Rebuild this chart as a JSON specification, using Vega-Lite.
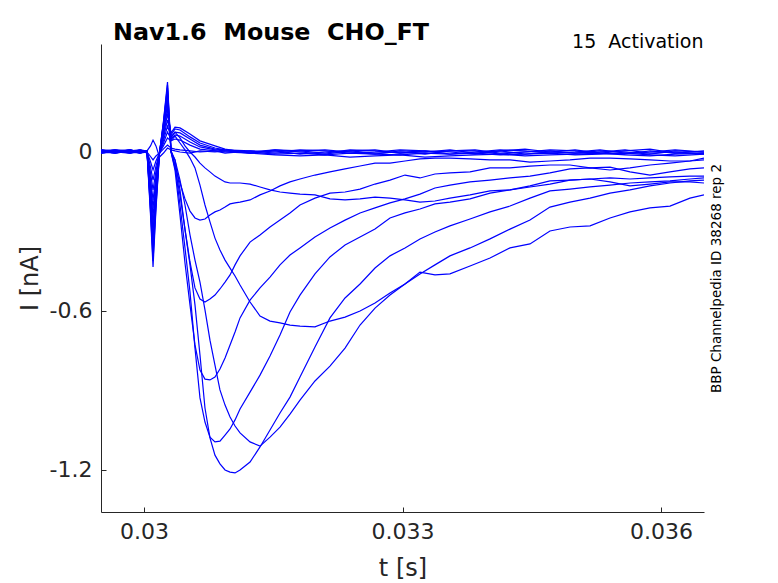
{
"$schema": "https://vega.github.io/schema/vega-lite/v6.json",
"width": 603, "height": 468,
"autosize": {"type": "none"},
"padding": {"left": 101, "top": 44, "right": 74, "bottom": 71},
"background": "white",
"title": {"text": "Nav1.6\u00a0 Mouse\u00a0 CHO_FT", "anchor": "start", "frame": "group", "dx": 12, "dy": 35, "offset": 3, "baseline": "alphabetic", "fontSize": 23.8, "fontWeight": "bold", "color": "#000000", "font": "DejaVu Sans"},
"config": {"view": {"stroke": null}, "font": "DejaVu Sans", "axis": {"grid": false, "domainColor": "#262626", "tickColor": "#262626", "labelColor": "#262626", "titleColor": "#262626", "labelFont": "DejaVu Sans", "titleFont": "DejaVu Sans"}},
"data": {"values": [
{"s":1,"t":0.0295,"i":0.004},{"s":1,"t":0.029663,"i":-0.004},{"s":1,"t":0.029837,"i":0.008},{"s":1,"t":0.029953,"i":0},{"s":1,"t":0.030034,"i":0.004},
{"s":1,"t":0.030075,"i":0.023},{"s":1,"t":0.030104,"i":0.045},{"s":1,"t":0.030138,"i":0.023},{"s":1,"t":0.030179,"i":-0.019},{"s":1,"t":0.030226,"i":-0.004},{"s":1,"t":0.030272,"i":0.015},
{"s":1,"t":0.030313,"i":0.008},{"s":1,"t":0.030359,"i":0.004},{"s":1,"t":0.030417,"i":0},{"s":1,"t":0.030533,"i":-0.004},{"s":1,"t":0.030649,"i":0.004},{"s":1,"t":0.030823,"i":0},
{"s":1,"t":0.03094,"i":0.004},{"s":1,"t":0.03123,"i":-0.004},{"s":1,"t":0.03152,"i":0.008},{"s":1,"t":0.03181,"i":0},{"s":1,"t":0.0321,"i":-0.008},{"s":1,"t":0.032391,"i":0.004},{"s":1,"t":0.032681,"i":0.008},{"s":1,"t":0.032971,"i":-0.004},{"s":1,"t":0.033261,"i":0},{"s":1,"t":0.033551,"i":0.008},{"s":1,"t":0.033842,"i":-0.004},{"s":1,"t":0.034132,"i":0.004},{"s":1,"t":0.034422,"i":-0.008},{"s":1,"t":0.034712,"i":0},{"s":1,"t":0.035003,"i":0.008},{"s":1,"t":0.035293,"i":-0.004},{"s":1,"t":0.035583,"i":0.004},{"s":1,"t":0.035873,"i":0.011},{"s":1,"t":0.036164,"i":-0.004},{"s":1,"t":0.0365,"i":0.004},

{"s":2,"t":0.0295,"i":0.008},{"s":2,"t":0.029663,"i":0},{"s":2,"t":0.029837,"i":-0.004},{"s":2,"t":0.029953,"i":0.004},{"s":2,"t":0.030034,"i":0},
{"s":2,"t":0.030075,"i":-0.017},{"s":2,"t":0.030104,"i":-0.03},{"s":2,"t":0.030138,"i":-0.015},{"s":2,"t":0.030179,"i":-0.004},{"s":2,"t":0.030226,"i":0.012},{"s":2,"t":0.030272,"i":0.026},
{"s":2,"t":0.030313,"i":0.015},{"s":2,"t":0.030359,"i":0.011},{"s":2,"t":0.030417,"i":0.008},{"s":2,"t":0.030533,"i":0.004},{"s":2,"t":0.030649,"i":0},{"s":2,"t":0.030823,"i":0.004},
{"s":2,"t":0.03094,"i":-0.004},{"s":2,"t":0.03123,"i":0.004},{"s":2,"t":0.03152,"i":0},{"s":2,"t":0.03181,"i":0.008},{"s":2,"t":0.0321,"i":0.004},{"s":2,"t":0.032391,"i":-0.004},{"s":2,"t":0.032681,"i":0},{"s":2,"t":0.032971,"i":0.008},{"s":2,"t":0.033261,"i":0.004},{"s":2,"t":0.033551,"i":-0.008},{"s":2,"t":0.033842,"i":0},{"s":2,"t":0.034132,"i":0.008},{"s":2,"t":0.034422,"i":0.004},{"s":2,"t":0.034712,"i":-0.004},{"s":2,"t":0.035003,"i":0},{"s":2,"t":0.035293,"i":0.008},{"s":2,"t":0.035583,"i":-0.004},{"s":2,"t":0.035873,"i":0},{"s":2,"t":0.036164,"i":0.008},{"s":2,"t":0.0365,"i":0},

{"s":3,"t":0.0295,"i":-0.004},{"s":3,"t":0.029663,"i":0.004},{"s":3,"t":0.029837,"i":0},{"s":3,"t":0.029953,"i":0.008},{"s":3,"t":0.030034,"i":0},
{"s":3,"t":0.030075,"i":-0.037},{"s":3,"t":0.030104,"i":-0.068},{"s":3,"t":0.030138,"i":-0.034},{"s":3,"t":0.030179,"i":-0.004},{"s":3,"t":0.030226,"i":0.024},{"s":3,"t":0.030272,"i":0.053},
{"s":3,"t":0.030313,"i":0.042},{"s":3,"t":0.030359,"i":0.049},{"s":3,"t":0.030417,"i":0.045},{"s":3,"t":0.030533,"i":0.026},{"s":3,"t":0.030649,"i":0.011},{"s":3,"t":0.030823,"i":0.004},
{"s":3,"t":0.03094,"i":0},{"s":3,"t":0.03123,"i":-0.004},{"s":3,"t":0.03152,"i":0.004},{"s":3,"t":0.03181,"i":-0.008},{"s":3,"t":0.0321,"i":0},{"s":3,"t":0.032391,"i":0.004},{"s":3,"t":0.032681,"i":-0.004},{"s":3,"t":0.032971,"i":0},{"s":3,"t":0.033261,"i":-0.008},{"s":3,"t":0.033551,"i":0.004},{"s":3,"t":0.033842,"i":0.008},{"s":3,"t":0.034132,"i":-0.004},{"s":3,"t":0.034422,"i":0},{"s":3,"t":0.034712,"i":0.004},{"s":3,"t":0.035003,"i":-0.004},{"s":3,"t":0.035293,"i":0},{"s":3,"t":0.035583,"i":0.008},{"s":3,"t":0.035873,"i":-0.004},{"s":3,"t":0.036164,"i":0},{"s":3,"t":0.0365,"i":-0.008},

{"s":4,"t":0.0295,"i":0},{"s":4,"t":0.029663,"i":0.008},{"s":4,"t":0.029837,"i":-0.004},{"s":4,"t":0.029953,"i":0},{"s":4,"t":0.030034,"i":0.004},
{"s":4,"t":0.030075,"i":-0.058},{"s":4,"t":0.030104,"i":-0.106},{"s":4,"t":0.030138,"i":-0.053},{"s":4,"t":0.030179,"i":-0.004},{"s":4,"t":0.030226,"i":0.034},{"s":4,"t":0.030272,"i":0.075},
{"s":4,"t":0.030313,"i":0.049},{"s":4,"t":0.030359,"i":0.064},{"s":4,"t":0.030417,"i":0.06},{"s":4,"t":0.030533,"i":0.038},{"s":4,"t":0.030649,"i":0.019},{"s":4,"t":0.030823,"i":0.008},
{"s":4,"t":0.03094,"i":0.004},{"s":4,"t":0.03123,"i":0},{"s":4,"t":0.03152,"i":0.008},{"s":4,"t":0.03181,"i":0.004},{"s":4,"t":0.0321,"i":-0.004},{"s":4,"t":0.032391,"i":0.008},{"s":4,"t":0.032681,"i":0.004},{"s":4,"t":0.032971,"i":-0.004},{"s":4,"t":0.033261,"i":0.004},{"s":4,"t":0.033551,"i":0},{"s":4,"t":0.033842,"i":-0.008},{"s":4,"t":0.034132,"i":0.004},{"s":4,"t":0.034422,"i":0.011},{"s":4,"t":0.034712,"i":0},{"s":4,"t":0.035003,"i":-0.004},{"s":4,"t":0.035293,"i":0.004},{"s":4,"t":0.035583,"i":0},{"s":4,"t":0.035873,"i":-0.008},{"s":4,"t":0.036164,"i":0.004},{"s":4,"t":0.0365,"i":0},

{"s":5,"t":0.0295,"i":0.004},{"s":5,"t":0.029663,"i":-0.004},{"s":5,"t":0.029837,"i":0.004},{"s":5,"t":0.029953,"i":0.004},{"s":5,"t":0.030034,"i":0},
{"s":5,"t":0.030075,"i":-0.079},{"s":5,"t":0.030104,"i":-0.143},{"s":5,"t":0.030138,"i":-0.072},{"s":5,"t":0.030179,"i":-0.004},{"s":5,"t":0.030226,"i":0.044},{"s":5,"t":0.030272,"i":0.098},
{"s":5,"t":0.030313,"i":0.057},{"s":5,"t":0.030359,"i":0.075},{"s":5,"t":0.030417,"i":0.072},{"s":5,"t":0.030533,"i":0.049},{"s":5,"t":0.030649,"i":0.026},{"s":5,"t":0.030823,"i":0.011},
{"s":5,"t":0.03094,"i":0.008},{"s":5,"t":0.03123,"i":0.004},{"s":5,"t":0.03152,"i":-0.004},{"s":5,"t":0.03181,"i":0.004},{"s":5,"t":0.0321,"i":0.008},{"s":5,"t":0.032391,"i":0},{"s":5,"t":0.032681,"i":-0.008},{"s":5,"t":0.032971,"i":0.004},{"s":5,"t":0.033261,"i":0},{"s":5,"t":0.033551,"i":0.004},{"s":5,"t":0.033842,"i":0.004},{"s":5,"t":0.034132,"i":-0.008},{"s":5,"t":0.034422,"i":0},{"s":5,"t":0.034712,"i":0.008},{"s":5,"t":0.035003,"i":0.004},{"s":5,"t":0.035293,"i":-0.004},{"s":5,"t":0.035583,"i":-0.008},{"s":5,"t":0.035873,"i":0.004},{"s":5,"t":0.036164,"i":-0.004},{"s":5,"t":0.0365,"i":-0.004},

{"s":6,"t":0.0295,"i":-0.004},{"s":6,"t":0.029663,"i":0},{"s":6,"t":0.029837,"i":0.008},{"s":6,"t":0.029953,"i":-0.004},{"s":6,"t":0.030034,"i":0},
{"s":6,"t":0.030075,"i":-0.1},{"s":6,"t":0.030104,"i":-0.181},{"s":6,"t":0.030138,"i":-0.091},{"s":6,"t":0.030179,"i":-0.004},{"s":6,"t":0.030226,"i":0.054},{"s":6,"t":0.030272,"i":0.121},
{"s":6,"t":0.030313,"i":0.064},{"s":6,"t":0.030359,"i":0.087},{"s":6,"t":0.030417,"i":0.083},{"s":6,"t":0.030533,"i":0.057},{"s":6,"t":0.030649,"i":0.034},{"s":6,"t":0.030823,"i":0.015},
{"s":6,"t":0.03094,"i":0.008},{"s":6,"t":0.03123,"i":0},{"s":6,"t":0.03152,"i":-0.008},{"s":6,"t":0.03181,"i":-0.004},{"s":6,"t":0.0321,"i":-0.011},{"s":6,"t":0.032391,"i":-0.004},{"s":6,"t":0.032681,"i":-0.008},{"s":6,"t":0.032971,"i":-0.011},{"s":6,"t":0.033261,"i":-0.004},{"s":6,"t":0.033551,"i":-0.008},{"s":6,"t":0.033842,"i":-0.004},{"s":6,"t":0.034132,"i":-0.011},{"s":6,"t":0.034422,"i":-0.008},{"s":6,"t":0.034712,"i":-0.004},{"s":6,"t":0.035003,"i":-0.011},{"s":6,"t":0.035293,"i":-0.008},{"s":6,"t":0.035583,"i":-0.004},{"s":6,"t":0.035873,"i":-0.011},{"s":6,"t":0.036164,"i":-0.015},{"s":6,"t":0.0365,"i":-0.008},

{"s":7,"t":0.0295,"i":0.004},{"s":7,"t":0.029663,"i":0.004},{"s":7,"t":0.029837,"i":0},{"s":7,"t":0.029953,"i":-0.004},{"s":7,"t":0.030034,"i":0.004},
{"s":7,"t":0.030075,"i":-0.116},{"s":7,"t":0.030104,"i":-0.211},{"s":7,"t":0.030138,"i":-0.106},{"s":7,"t":0.030179,"i":-0.004},{"s":7,"t":0.030226,"i":0.065},{"s":7,"t":0.030272,"i":0.143},
{"s":7,"t":0.030313,"i":0.072},{"s":7,"t":0.030359,"i":0.094},{"s":7,"t":0.030417,"i":0.091},{"s":7,"t":0.030533,"i":0.068},{"s":7,"t":0.030649,"i":0.042},{"s":7,"t":0.030823,"i":0.023},
{"s":7,"t":0.03094,"i":0.011},{"s":7,"t":0.03123,"i":-0.004},{"s":7,"t":0.03152,"i":-0.011},{"s":7,"t":0.03181,"i":-0.015},{"s":7,"t":0.0321,"i":-0.011},{"s":7,"t":0.032391,"i":-0.019},{"s":7,"t":0.032681,"i":-0.015},{"s":7,"t":0.032971,"i":-0.011},{"s":7,"t":0.033261,"i":-0.019},{"s":7,"t":0.033551,"i":-0.015},{"s":7,"t":0.033842,"i":-0.011},{"s":7,"t":0.034132,"i":-0.008},{"s":7,"t":0.034422,"i":-0.015},{"s":7,"t":0.034712,"i":-0.011},{"s":7,"t":0.035003,"i":-0.008},{"s":7,"t":0.035293,"i":-0.004},{"s":7,"t":0.035583,"i":-0.011},{"s":7,"t":0.035873,"i":-0.015},{"s":7,"t":0.036164,"i":-0.008},{"s":7,"t":0.0365,"i":-0.004},

{"s":8,"t":0.0295,"i":0},{"s":8,"t":0.029663,"i":0.004},{"s":8,"t":0.029837,"i":-0.004},{"s":8,"t":0.029953,"i":0.008},{"s":8,"t":0.030034,"i":0},
{"s":8,"t":0.030075,"i":-0.133},{"s":8,"t":0.030104,"i":-0.242},{"s":8,"t":0.030138,"i":-0.121},{"s":8,"t":0.030179,"i":-0.004},{"s":8,"t":0.030226,"i":0.073},{"s":8,"t":0.030272,"i":0.162},
{"s":8,"t":0.030313,"i":0.053},{"s":8,"t":0.030359,"i":0.075},{"s":8,"t":0.030417,"i":0.053},{"s":8,"t":0.030475,"i":0.023},{"s":8,"t":0.030533,"i":0},{"s":8,"t":0.030591,"i":-0.019},{"s":8,"t":0.030649,"i":-0.042},{"s":8,"t":0.030707,"i":-0.06},{"s":8,"t":0.030765,"i":-0.075},{"s":8,"t":0.030823,"i":-0.091},{"s":8,"t":0.030881,"i":-0.102},{"s":8,"t":0.03094,"i":-0.113},{"s":8,"t":0.030998,"i":-0.117},{"s":8,"t":0.031056,"i":-0.117},{"s":8,"t":0.031114,"i":-0.117},{"s":8,"t":0.03123,"i":-0.121},{"s":8,"t":0.031346,"i":-0.132},{"s":8,"t":0.031462,"i":-0.143},{"s":8,"t":0.031578,"i":-0.151},{"s":8,"t":0.031694,"i":-0.155},{"s":8,"t":0.03181,"i":-0.159},{"s":8,"t":0.031984,"i":-0.162},{"s":8,"t":0.032158,"i":-0.177},{"s":8,"t":0.032333,"i":-0.181},{"s":8,"t":0.032507,"i":-0.177},{"s":8,"t":0.032681,"i":-0.17},{"s":8,"t":0.032855,"i":-0.174},{"s":8,"t":0.033029,"i":-0.181},{"s":8,"t":0.033203,"i":-0.189},{"s":8,"t":0.033377,"i":-0.185},{"s":8,"t":0.033551,"i":-0.174},{"s":8,"t":0.033784,"i":-0.162},{"s":8,"t":0.034016,"i":-0.147},{"s":8,"t":0.034248,"i":-0.143},{"s":8,"t":0.03448,"i":-0.132},{"s":8,"t":0.034712,"i":-0.121},{"s":8,"t":0.034944,"i":-0.106},{"s":8,"t":0.035177,"i":-0.102},{"s":8,"t":0.035409,"i":-0.113},{"s":8,"t":0.035641,"i":-0.128},{"s":8,"t":0.035873,"i":-0.121},{"s":8,"t":0.036105,"i":-0.113},{"s":8,"t":0.036337,"i":-0.113},{"s":8,"t":0.0365,"i":-0.117},

{"s":9,"t":0.0295,"i":0.008},{"s":9,"t":0.029663,"i":0},{"s":9,"t":0.029837,"i":0.004},{"s":9,"t":0.029953,"i":-0.004},{"s":9,"t":0.030034,"i":0.004},
{"s":9,"t":0.030075,"i":-0.149},{"s":9,"t":0.030104,"i":-0.272},{"s":9,"t":0.030138,"i":-0.136},{"s":9,"t":0.030179,"i":-0.004},{"s":9,"t":0.030226,"i":0.082},{"s":9,"t":0.030272,"i":0.181},
{"s":9,"t":0.030313,"i":0.042},{"s":9,"t":0.030359,"i":0.06},{"s":9,"t":0.030417,"i":0.034},{"s":9,"t":0.030475,"i":0.008},{"s":9,"t":0.030533,"i":-0.023},{"s":9,"t":0.030591,"i":-0.06},{"s":9,"t":0.030649,"i":-0.125},{"s":9,"t":0.030707,"i":-0.2},{"s":9,"t":0.030765,"i":-0.264},{"s":9,"t":0.030823,"i":-0.325},{"s":9,"t":0.030881,"i":-0.37},{"s":9,"t":0.03094,"i":-0.408},{"s":9,"t":0.030998,"i":-0.438},{"s":9,"t":0.031056,"i":-0.468},{"s":9,"t":0.031114,"i":-0.502},{"s":9,"t":0.03123,"i":-0.566},{"s":9,"t":0.031346,"i":-0.619},{"s":9,"t":0.031462,"i":-0.638},{"s":9,"t":0.031578,"i":-0.645},{"s":9,"t":0.031694,"i":-0.653},{"s":9,"t":0.03181,"i":-0.657},{"s":9,"t":0.031984,"i":-0.66},{"s":9,"t":0.032158,"i":-0.638},{"s":9,"t":0.032333,"i":-0.623},{"s":9,"t":0.032507,"i":-0.6},{"s":9,"t":0.032681,"i":-0.57},{"s":9,"t":0.032855,"i":-0.532},{"s":9,"t":0.033029,"i":-0.498},{"s":9,"t":0.033203,"i":-0.453},{"s":9,"t":0.033377,"i":-0.464},{"s":9,"t":0.033551,"i":-0.46},{"s":9,"t":0.033784,"i":-0.43},{"s":9,"t":0.034016,"i":-0.4},{"s":9,"t":0.034248,"i":-0.362},{"s":9,"t":0.03448,"i":-0.347},{"s":9,"t":0.034712,"i":-0.298},{"s":9,"t":0.034944,"i":-0.283},{"s":9,"t":0.035177,"i":-0.279},{"s":9,"t":0.035409,"i":-0.249},{"s":9,"t":0.035641,"i":-0.226},{"s":9,"t":0.035873,"i":-0.211},{"s":9,"t":0.036105,"i":-0.204},{"s":9,"t":0.036337,"i":-0.174},{"s":9,"t":0.0365,"i":-0.162},

{"s":10,"t":0.0295,"i":-0.004},{"s":10,"t":0.029663,"i":0.004},{"s":10,"t":0.029837,"i":0.008},{"s":10,"t":0.029953,"i":0},{"s":10,"t":0.030034,"i":0},
{"s":10,"t":0.030075,"i":-0.166},{"s":10,"t":0.030104,"i":-0.302},{"s":10,"t":0.030138,"i":-0.151},{"s":10,"t":0.030179,"i":-0.004},{"s":10,"t":0.030226,"i":0.09},{"s":10,"t":0.030272,"i":0.2},
{"s":10,"t":0.030313,"i":0.004},{"s":10,"t":0.030359,"i":-0.03},{"s":10,"t":0.030417,"i":-0.106},{"s":10,"t":0.030475,"i":-0.2},{"s":10,"t":0.030533,"i":-0.313},{"s":10,"t":0.030591,"i":-0.408},{"s":10,"t":0.030649,"i":-0.491},{"s":10,"t":0.030707,"i":-0.596},{"s":10,"t":0.030765,"i":-0.71},{"s":10,"t":0.030823,"i":-0.804},{"s":10,"t":0.030881,"i":-0.898},{"s":10,"t":0.03094,"i":-0.955},{"s":10,"t":0.030998,"i":-1.0},{"s":10,"t":0.031056,"i":-1.034},{"s":10,"t":0.031114,"i":-1.06},{"s":10,"t":0.03123,"i":-1.094},{"s":10,"t":0.031346,"i":-1.11},{"s":10,"t":0.031462,"i":-1.076},{"s":10,"t":0.031578,"i":-1.038},{"s":10,"t":0.031694,"i":-0.989},{"s":10,"t":0.03181,"i":-0.936},{"s":10,"t":0.031984,"i":-0.864},{"s":10,"t":0.032158,"i":-0.808},{"s":10,"t":0.032333,"i":-0.74},{"s":10,"t":0.032507,"i":-0.653},{"s":10,"t":0.032681,"i":-0.589},{"s":10,"t":0.032855,"i":-0.54},{"s":10,"t":0.033029,"i":-0.498},{"s":10,"t":0.033203,"i":-0.46},{"s":10,"t":0.033377,"i":-0.426},{"s":10,"t":0.033551,"i":-0.392},{"s":10,"t":0.033784,"i":-0.362},{"s":10,"t":0.034016,"i":-0.328},{"s":10,"t":0.034248,"i":-0.291},{"s":10,"t":0.03448,"i":-0.257},{"s":10,"t":0.034712,"i":-0.208},{"s":10,"t":0.034944,"i":-0.189},{"s":10,"t":0.035177,"i":-0.174},{"s":10,"t":0.035409,"i":-0.155},{"s":10,"t":0.035641,"i":-0.143},{"s":10,"t":0.035873,"i":-0.128},{"s":10,"t":0.036105,"i":-0.117},{"s":10,"t":0.036337,"i":-0.109},{"s":10,"t":0.0365,"i":-0.106},

{"s":11,"t":0.0295,"i":0.004},{"s":11,"t":0.029663,"i":0.008},{"s":11,"t":0.029837,"i":0},{"s":11,"t":0.029953,"i":0.004},{"s":11,"t":0.030034,"i":-0.004},
{"s":11,"t":0.030075,"i":-0.183},{"s":11,"t":0.030104,"i":-0.332},{"s":11,"t":0.030138,"i":-0.166},{"s":11,"t":0.030179,"i":-0.004},{"s":11,"t":0.030226,"i":0.097},{"s":11,"t":0.030272,"i":0.215},
{"s":11,"t":0.030313,"i":0},{"s":11,"t":0.030359,"i":-0.03},{"s":11,"t":0.030417,"i":-0.143},{"s":11,"t":0.030475,"i":-0.294},{"s":11,"t":0.030533,"i":-0.426},{"s":11,"t":0.030591,"i":-0.577},{"s":11,"t":0.030649,"i":-0.766},{"s":11,"t":0.030707,"i":-0.966},{"s":11,"t":0.030765,"i":-1.079},{"s":11,"t":0.030823,"i":-1.144},{"s":11,"t":0.030881,"i":-1.177},{"s":11,"t":0.03094,"i":-1.2},{"s":11,"t":0.030998,"i":-1.208},{"s":11,"t":0.031056,"i":-1.211},{"s":11,"t":0.031114,"i":-1.2},{"s":11,"t":0.03123,"i":-1.17},{"s":11,"t":0.031346,"i":-1.113},{"s":11,"t":0.031462,"i":-1.049},{"s":11,"t":0.031578,"i":-0.985},{"s":11,"t":0.031694,"i":-0.925},{"s":11,"t":0.03181,"i":-0.849},{"s":11,"t":0.031984,"i":-0.736},{"s":11,"t":0.032158,"i":-0.626},{"s":11,"t":0.032333,"i":-0.551},{"s":11,"t":0.032507,"i":-0.498},{"s":11,"t":0.032681,"i":-0.438},{"s":11,"t":0.032855,"i":-0.392},{"s":11,"t":0.033029,"i":-0.362},{"s":11,"t":0.033203,"i":-0.328},{"s":11,"t":0.033377,"i":-0.302},{"s":11,"t":0.033551,"i":-0.279},{"s":11,"t":0.033784,"i":-0.253},{"s":11,"t":0.034016,"i":-0.226},{"s":11,"t":0.034248,"i":-0.204},{"s":11,"t":0.03448,"i":-0.174},{"s":11,"t":0.034712,"i":-0.147},{"s":11,"t":0.034944,"i":-0.14},{"s":11,"t":0.035177,"i":-0.132},{"s":11,"t":0.035409,"i":-0.125},{"s":11,"t":0.035641,"i":-0.117},{"s":11,"t":0.035873,"i":-0.113},{"s":11,"t":0.036105,"i":-0.109},{"s":11,"t":0.036337,"i":-0.102},{"s":11,"t":0.0365,"i":-0.098},

{"s":12,"t":0.0295,"i":0},{"s":12,"t":0.029663,"i":-0.004},{"s":12,"t":0.029837,"i":0.004},{"s":12,"t":0.029953,"i":0.008},{"s":12,"t":0.030034,"i":0.004},
{"s":12,"t":0.030075,"i":-0.197},{"s":12,"t":0.030104,"i":-0.359},{"s":12,"t":0.030138,"i":-0.179},{"s":12,"t":0.030179,"i":-0.004},{"s":12,"t":0.030226,"i":0.104},{"s":12,"t":0.030272,"i":0.23},
{"s":12,"t":0.030313,"i":0.004},{"s":12,"t":0.030359,"i":-0.049},{"s":12,"t":0.030417,"i":-0.2},{"s":12,"t":0.030475,"i":-0.362},{"s":12,"t":0.030533,"i":-0.528},{"s":12,"t":0.030591,"i":-0.74},{"s":12,"t":0.030649,"i":-0.928},{"s":12,"t":0.030707,"i":-1.019},{"s":12,"t":0.030765,"i":-1.076},{"s":12,"t":0.030823,"i":-1.094},{"s":12,"t":0.030881,"i":-1.091},{"s":12,"t":0.03094,"i":-1.068},{"s":12,"t":0.030998,"i":-1.045},{"s":12,"t":0.031056,"i":-1.011},{"s":12,"t":0.031114,"i":-0.97},{"s":12,"t":0.03123,"i":-0.906},{"s":12,"t":0.031346,"i":-0.842},{"s":12,"t":0.031462,"i":-0.77},{"s":12,"t":0.031578,"i":-0.691},{"s":12,"t":0.031694,"i":-0.604},{"s":12,"t":0.03181,"i":-0.54},{"s":12,"t":0.031984,"i":-0.46},{"s":12,"t":0.032158,"i":-0.396},{"s":12,"t":0.032333,"i":-0.351},{"s":12,"t":0.032507,"i":-0.321},{"s":12,"t":0.032681,"i":-0.291},{"s":12,"t":0.032855,"i":-0.249},{"s":12,"t":0.033029,"i":-0.23},{"s":12,"t":0.033203,"i":-0.215},{"s":12,"t":0.033377,"i":-0.196},{"s":12,"t":0.033551,"i":-0.189},{"s":12,"t":0.033784,"i":-0.177},{"s":12,"t":0.034016,"i":-0.155},{"s":12,"t":0.034248,"i":-0.143},{"s":12,"t":0.03448,"i":-0.128},{"s":12,"t":0.034712,"i":-0.109},{"s":12,"t":0.034944,"i":-0.106},{"s":12,"t":0.035177,"i":-0.102},{"s":12,"t":0.035409,"i":-0.098},{"s":12,"t":0.035641,"i":-0.102},{"s":12,"t":0.035873,"i":-0.098},{"s":12,"t":0.036105,"i":-0.094},{"s":12,"t":0.036337,"i":-0.091},{"s":12,"t":0.0365,"i":-0.091},

{"s":13,"t":0.0295,"i":0.008},{"s":13,"t":0.029663,"i":0.004},{"s":13,"t":0.029837,"i":0},{"s":13,"t":0.029953,"i":0.004},{"s":13,"t":0.030034,"i":0},
{"s":13,"t":0.030075,"i":-0.212},{"s":13,"t":0.030104,"i":-0.385},{"s":13,"t":0.030138,"i":-0.192},{"s":13,"t":0.030179,"i":-0.004},{"s":13,"t":0.030226,"i":0.109},{"s":13,"t":0.030272,"i":0.242},
{"s":13,"t":0.030313,"i":0},{"s":13,"t":0.030359,"i":-0.068},{"s":13,"t":0.030417,"i":-0.238},{"s":13,"t":0.030475,"i":-0.419},{"s":13,"t":0.030533,"i":-0.577},{"s":13,"t":0.030591,"i":-0.728},{"s":13,"t":0.030649,"i":-0.823},{"s":13,"t":0.030707,"i":-0.857},{"s":13,"t":0.030765,"i":-0.86},{"s":13,"t":0.030823,"i":-0.849},{"s":13,"t":0.030881,"i":-0.819},{"s":13,"t":0.03094,"i":-0.777},{"s":13,"t":0.030998,"i":-0.728},{"s":13,"t":0.031056,"i":-0.679},{"s":13,"t":0.031114,"i":-0.626},{"s":13,"t":0.03123,"i":-0.559},{"s":13,"t":0.031346,"i":-0.513},{"s":13,"t":0.031462,"i":-0.472},{"s":13,"t":0.031578,"i":-0.426},{"s":13,"t":0.031694,"i":-0.389},{"s":13,"t":0.03181,"i":-0.362},{"s":13,"t":0.031984,"i":-0.321},{"s":13,"t":0.032158,"i":-0.287},{"s":13,"t":0.032333,"i":-0.257},{"s":13,"t":0.032507,"i":-0.23},{"s":13,"t":0.032681,"i":-0.211},{"s":13,"t":0.032855,"i":-0.192},{"s":13,"t":0.033029,"i":-0.177},{"s":13,"t":0.033203,"i":-0.159},{"s":13,"t":0.033377,"i":-0.136},{"s":13,"t":0.033551,"i":-0.125},{"s":13,"t":0.033784,"i":-0.113},{"s":13,"t":0.034016,"i":-0.106},{"s":13,"t":0.034248,"i":-0.098},{"s":13,"t":0.03448,"i":-0.091},{"s":13,"t":0.034712,"i":-0.079},{"s":13,"t":0.034944,"i":-0.064},{"s":13,"t":0.035177,"i":-0.06},{"s":13,"t":0.035409,"i":-0.068},{"s":13,"t":0.035641,"i":-0.06},{"s":13,"t":0.035873,"i":-0.049},{"s":13,"t":0.036105,"i":-0.042},{"s":13,"t":0.036337,"i":-0.034},{"s":13,"t":0.0365,"i":-0.023},

{"s":14,"t":0.0295,"i":0.004},{"s":14,"t":0.029663,"i":0},{"s":14,"t":0.029837,"i":0.008},{"s":14,"t":0.029953,"i":0},{"s":14,"t":0.030034,"i":0.004},
{"s":14,"t":0.030075,"i":-0.226},{"s":14,"t":0.030104,"i":-0.411},{"s":14,"t":0.030138,"i":-0.206},{"s":14,"t":0.030179,"i":-0.004},{"s":14,"t":0.030226,"i":0.114},{"s":14,"t":0.030272,"i":0.253},
{"s":14,"t":0.030313,"i":0},{"s":14,"t":0.030359,"i":-0.06},{"s":14,"t":0.030417,"i":-0.162},{"s":14,"t":0.030475,"i":-0.291},{"s":14,"t":0.030533,"i":-0.415},{"s":14,"t":0.030591,"i":-0.513},{"s":14,"t":0.030649,"i":-0.555},{"s":14,"t":0.030707,"i":-0.566},{"s":14,"t":0.030765,"i":-0.555},{"s":14,"t":0.030823,"i":-0.54},{"s":14,"t":0.030881,"i":-0.517},{"s":14,"t":0.03094,"i":-0.491},{"s":14,"t":0.030998,"i":-0.464},{"s":14,"t":0.031056,"i":-0.426},{"s":14,"t":0.031114,"i":-0.392},{"s":14,"t":0.03123,"i":-0.34},{"s":14,"t":0.031346,"i":-0.313},{"s":14,"t":0.031462,"i":-0.283},{"s":14,"t":0.031578,"i":-0.257},{"s":14,"t":0.031694,"i":-0.23},{"s":14,"t":0.03181,"i":-0.2},{"s":14,"t":0.031984,"i":-0.174},{"s":14,"t":0.032158,"i":-0.155},{"s":14,"t":0.032333,"i":-0.151},{"s":14,"t":0.032507,"i":-0.14},{"s":14,"t":0.032681,"i":-0.121},{"s":14,"t":0.032855,"i":-0.106},{"s":14,"t":0.033029,"i":-0.087},{"s":14,"t":0.033203,"i":-0.098},{"s":14,"t":0.033377,"i":-0.083},{"s":14,"t":0.033551,"i":-0.079},{"s":14,"t":0.033784,"i":-0.075},{"s":14,"t":0.034016,"i":-0.06},{"s":14,"t":0.034248,"i":-0.06},{"s":14,"t":0.03448,"i":-0.053},{"s":14,"t":0.034712,"i":-0.049},{"s":14,"t":0.034944,"i":-0.049},{"s":14,"t":0.035177,"i":-0.06},{"s":14,"t":0.035409,"i":-0.057},{"s":14,"t":0.035641,"i":-0.075},{"s":14,"t":0.035873,"i":-0.087},{"s":14,"t":0.036105,"i":-0.075},{"s":14,"t":0.036337,"i":-0.064},{"s":14,"t":0.0365,"i":-0.06},

{"s":15,"t":0.0295,"i":0},{"s":15,"t":0.029663,"i":0.008},{"s":15,"t":0.029837,"i":0.004},{"s":15,"t":0.029953,"i":0.004},{"s":15,"t":0.030034,"i":0},
{"s":15,"t":0.030075,"i":-0.239},{"s":15,"t":0.030104,"i":-0.434},{"s":15,"t":0.030138,"i":-0.217},{"s":15,"t":0.030179,"i":-0.004},{"s":15,"t":0.030226,"i":0.119},{"s":15,"t":0.030272,"i":0.264},
{"s":15,"t":0.030313,"i":0.004},{"s":15,"t":0.030359,"i":-0.053},{"s":15,"t":0.030417,"i":-0.117},{"s":15,"t":0.030475,"i":-0.177},{"s":15,"t":0.030533,"i":-0.223},{"s":15,"t":0.030591,"i":-0.249},{"s":15,"t":0.030649,"i":-0.257},{"s":15,"t":0.030707,"i":-0.253},{"s":15,"t":0.030765,"i":-0.238},{"s":15,"t":0.030823,"i":-0.226},{"s":15,"t":0.030881,"i":-0.219},{"s":15,"t":0.03094,"i":-0.208},{"s":15,"t":0.030998,"i":-0.196},{"s":15,"t":0.031056,"i":-0.192},{"s":15,"t":0.031114,"i":-0.189},{"s":15,"t":0.03123,"i":-0.181},{"s":15,"t":0.031346,"i":-0.162},{"s":15,"t":0.031462,"i":-0.147},{"s":15,"t":0.031578,"i":-0.128},{"s":15,"t":0.031694,"i":-0.113},{"s":15,"t":0.03181,"i":-0.102},{"s":15,"t":0.031984,"i":-0.087},{"s":15,"t":0.032158,"i":-0.075},{"s":15,"t":0.032333,"i":-0.064},{"s":15,"t":0.032507,"i":-0.053},{"s":15,"t":0.032681,"i":-0.042},{"s":15,"t":0.032855,"i":-0.042},{"s":15,"t":0.033029,"i":-0.034},{"s":15,"t":0.033203,"i":-0.026},{"s":15,"t":0.033377,"i":-0.023},{"s":15,"t":0.033551,"i":-0.023},{"s":15,"t":0.033784,"i":-0.026},{"s":15,"t":0.034016,"i":-0.03},{"s":15,"t":0.034248,"i":-0.03},{"s":15,"t":0.03448,"i":-0.038},{"s":15,"t":0.034712,"i":-0.034},{"s":15,"t":0.034944,"i":-0.03},{"s":15,"t":0.035177,"i":-0.023},{"s":15,"t":0.035409,"i":-0.023},{"s":15,"t":0.035641,"i":-0.026},{"s":15,"t":0.035873,"i":-0.03},{"s":15,"t":0.036105,"i":-0.034},{"s":15,"t":0.036337,"i":-0.034},{"s":15,"t":0.0365,"i":-0.03}
]},
"layer": [
{"mark": {"type": "line", "color": "#0000ff", "strokeWidth": 1.2, "clip": true},
 "encoding": {
  "x": {"field": "t", "type": "quantitative", "scale": {"domain": [0.0295, 0.0365], "nice": false, "zero": false},
        "axis": {"values": [0.03, 0.033, 0.036], "format": ".3~f", "labelFontSize": 22, "tickSize": -5, "labelPadding": 14, "title": "t [s]", "titleFontSize": 24, "titleFontWeight": "normal", "titlePadding": 14, "labelFlush": false}},
  "y": {"field": "i", "type": "quantitative", "scale": {"domain": [-1.3585, 0.4075], "nice": false, "zero": false},
        "axis": {"values": [0, -0.6, -1.2], "labelExpr": "datum.value == 0 ? '0\u00a0\u00a0\u00a0' : replace(format(datum.value, '.1f'), '\u2212', '-')", "labelFontSize": 22, "tickSize": -5, "labelPadding": 14, "title": "I [nA]", "titleFontSize": 24, "titleFontWeight": "normal", "titlePadding": 7, "labelFlush": false}},
  "detail": {"field": "s", "type": "nominal"}
 }},
{"mark": {"type": "point", "opacity": 0},
 "encoding": {
  "x": {"field": "t", "type": "quantitative", "axis": {"orient": "top", "domain": false, "ticks": false, "labels": false, "grid": false, "title": "15\u00a0 Activation", "titleFontSize": 19, "titleFontWeight": "normal", "titleColor": "#000000", "titleX": 602, "titleY": 3, "titleAlign": "right", "titleBaseline": "alphabetic"}},
  "y": {"field": "i", "type": "quantitative", "axis": {"orient": "right", "domain": false, "ticks": false, "labels": false, "grid": false, "title": "BBP Channelpedia ID 38268 rep 2", "titleFontSize": 13.5, "titleFontWeight": "normal", "titleColor": "#000000", "titleAngle": 270, "titleX": 12, "titleY": 234, "titleAlign": "center", "titleBaseline": "middle"}}
 }}
],
"resolve": {"axis": {"x": "independent", "y": "independent"}}
}
